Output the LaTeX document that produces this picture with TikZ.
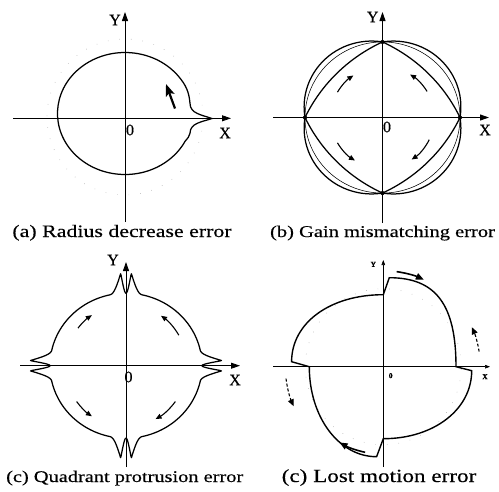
\documentclass[tikz,border=0pt]{standalone}
\usepackage{fontspec}
\setmainfont{Liberation Serif}[FakeBold=0.4]
\newfontfamily\capfont{Liberation Serif}[FakeStretch=1.25,FakeBold=0.4]
\usetikzlibrary{arrows.meta}
\begin{document}
\begin{tikzpicture}[x=1pt,y=1pt,
  axis/.style={line width=0.9pt,-{Triangle[length=9pt,width=6pt]}},
  axisd/.style={line width=0.6pt,-{Triangle[length=5pt,width=3.6pt]}},
  curve/.style={line width=1.25pt},
  thincurve/.style={line width=0.55pt},
  marrow/.style={line width=1.1pt,-{Triangle[length=6pt,width=5pt]}},
  darrow/.style={line width=1.6pt,-{Triangle[length=8pt,width=6.5pt]}},
  dasharrow/.style={line width=1.1pt,dash pattern=on 3pt off 2pt,-{Triangle[length=7pt,width=6pt]}},
  faint/.style={black!30,line width=0.6pt,dash pattern=on 0.6pt off 11pt},
  lbl/.style={font=\fontsize{16}{16}\selectfont,inner sep=0pt},
  slbl/.style={font=\fontsize{7.5}{8}\selectfont\bfseries,inner sep=0pt},
  captxt/.style={anchor=base,inner sep=0pt},
  dot/.style={circle,fill,inner sep=0pt,minimum size=4.2pt},
  declare function={lobex(\u)=abs(sin(2*\u))/0.11;
                    lobet(\u)=min(lobex(\u),max(0,1-(lobex(\u)-1)/2.8));
                    lobe(\u)=lobet(\u)*lobet(\u);}
]
\path[use as bounding box] (0,0) rectangle (499,-491);

% ================= (a) Radius decrease error =================
\coordinate (aX0) at (13,-118.3);
\coordinate (aX1) at (231,-118.3);
\coordinate (aY0) at (125,-222);
\coordinate (aY1) at (125,-12);
\draw[faint] (125,-117) circle[radius=78];
\draw[axis] (aX0) -- (aX1);
\draw[axis] (aY0) -- (aY1);
\coordinate (aP1) at ({125+67.5*cos(37)},{-113.5+61*sin(37)});
\coordinate (aQ2) at (190,-133.3);
\coordinate (aT) at (212,-118.5);
\coordinate (aQ1) at (190,-103.3);
\draw[curve] (aP1) arc[start angle=37,end angle=333,x radius=67.5,y radius=61]
  to[out=60,in=-90] (aQ2) to[out=90,in=199] (aT)
  to[out=160,in=-90] (aQ1) to[out=95,in=-50] (aP1);
\coordinate (aA0) at (175,-108.5);
\coordinate (aA1) at (166,-84);
\draw[line width=2.2pt,-{Stealth[length=12pt,width=9pt,inset=2.5pt]}] (aA0) -- (aA1);
\node[lbl] (aYl) at (115,-20) {Y};
\node[lbl] (aXl) at (225,-133) {X};
\node[lbl] (aO) at (130,-130) {0};
\node[captxt,font=\capfont\fontsize{17.5}{18}\selectfont] (acap) at (122,-237) {(a) Radius decrease error};

% ================= (b) Gain mismatching error =================
\coordinate (bX0) at (273,-117.5);
\coordinate (bX1) at (489,-117.5);
\coordinate (bY0) at (382.5,-223);
\coordinate (bY1) at (382.5,-12);
\draw[axis] (bX0) -- (bX1);
\draw[axis] (bY0) -- (bY1);
\begin{scope}[shift={(382.5,-117.5)},yscale=0.975]
  \draw[thincurve] (0,0) circle[radius=77.5];
  \draw[curve] (77.5,0) arc[start angle=-9.34,end angle=99.34,radius=67.45]
    arc[start angle=80.66,end angle=189.34,radius=67.45]
    arc[start angle=170.66,end angle=279.34,radius=67.45]
    arc[start angle=260.66,end angle=369.34,radius=67.45] -- cycle;
  \draw[curve] (77.5,0) arc[start angle=25.28,end angle=64.72,radius=162.4]
    arc[start angle=115.28,end angle=154.72,radius=162.4]
    arc[start angle=205.28,end angle=244.72,radius=162.4]
    arc[start angle=295.28,end angle=334.72,radius=162.4] -- cycle;
  \node[dot] (bd1) at (77.5,0) {};
  \node[dot] (bd2) at (0,77.5) {};
  \node[dot] (bd3) at (-77.5,0) {};
  \node[dot] (bd4) at (0,-77.5) {};
  \draw[marrow] (31:52) arc[start angle=31,end angle=58,radius=52];
  \draw[marrow] (150:52) arc[start angle=150,end angle=124,radius=52];
  \draw[marrow] (210:52) arc[start angle=210,end angle=238,radius=52];
  \draw[marrow] (334:52) arc[start angle=334,end angle=304,radius=52];
\end{scope}
\node[lbl] (bYl) at (372.7,-17) {Y};
\node[lbl] (bXl) at (485,-130) {X};
\node[lbl] (bO) at (387,-127) {0};
\node[captxt,font=\capfont\fontsize{16.4}{18}\selectfont] (bcap) at (382.5,-237) {(b) Gain mismatching error};

% ================= (c) Quadrant protrusion error =================
\coordinate (cX0) at (20,-365.7);
\coordinate (cX1) at (240,-365.7);
\coordinate (cY0) at (126,-467);
\coordinate (cY1) at (126,-262);
\draw[axis] (cX0) -- (cX1);
\draw[axis] (cY0) -- (cY1);
\begin{scope}[shift={(126,-365.7)}]
  \draw[curve,line join=round] plot[domain=0:360,samples=1441,variable=\t]
    ({(76+20*lobe(\t))*cos(\t)},{(72.5+20*lobe(\t))*sin(\t)}) -- cycle;
  \draw[marrow] (30:61) arc[start angle=30,end angle=55,radius=61];
  \draw[marrow] (142:61) arc[start angle=142,end angle=124,radius=61];
  \draw[marrow] (216:61) arc[start angle=216,end angle=236,radius=61];
  \draw[marrow] (324:61) arc[start angle=324,end angle=299,radius=61];
\end{scope}
\node[lbl] (cYl) at (113,-260) {Y};
\node[lbl] (cXl) at (235,-380) {X};
\node[lbl] (cO) at (128.5,-377) {0};
\node[captxt,font=\capfont\fontsize{16.3}{18}\selectfont] (ccap) at (124.7,-482) {(c) Quadrant protrusion error};

% ================= (d) Lost motion error =================
\coordinate (dX0) at (273,-366.7);
\coordinate (dX1) at (490,-366.7);
\coordinate (dY0) at (383.3,-467);
\coordinate (dY1) at (383.3,-260);
\draw[faint] (383.3,-366.7) circle[radius=78];
\draw[axisd] (dX0) -- (dX1);
\draw[axisd] (dY0) -- (dY1);
\begin{scope}[shift={(383.3,-366.7)}]
  \draw[line width=1.4pt,line join=miter]
    (72.7,0) .. controls (72.7,62.3) and (52.4,89) .. (6,89)
    -- (0,72)
    .. controls (-53.2,72) and (-91.7,43.9) .. (-91.7,5)
    -- (-74,0)
    .. controls (-74,-50.4) and (-44.4,-90) .. (-6.7,-90)
    -- (0,-72)
    .. controls (50.4,-72) and (88.4,-42.8) .. (88.4,-4)
    -- cycle;
  \draw[darrow] (82:96) arc[start angle=82,end angle=65,radius=96];
  \draw[dasharrow] (9:97) arc[start angle=9,end angle=24,radius=97];
  \draw[dasharrow] (187:98) arc[start angle=187,end angle=204,radius=97];
  \draw[darrow] (258:87.5) arc[start angle=258,end angle=240,radius=87.5];
\end{scope}
\node[slbl] (dYl) at (373.3,-264.3) {Y};
\node[slbl] (dXl) at (485,-376.7) {X};
\node[slbl] (dO) at (390.7,-375.7) {0};
\node[captxt,font=\capfont\fontsize{18.5}{20}\selectfont] (dcap) at (379,-482) {(c) Lost motion error};
\end{tikzpicture}
\end{document}
